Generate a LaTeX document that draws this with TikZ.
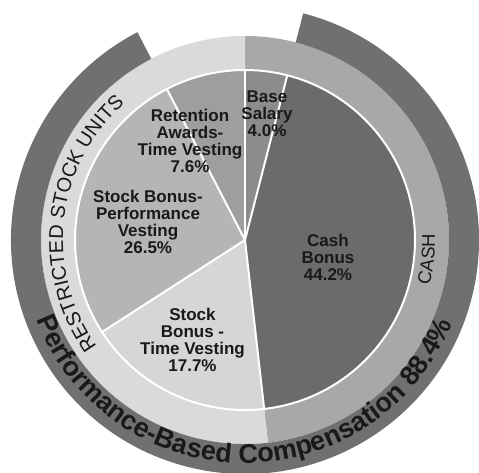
\documentclass[tikz,border=0pt]{standalone}
\usepackage{fontspec}
\setmainfont{Liberation Sans}
\usetikzlibrary{decorations.text}
\definecolor{cashbonus}{gray}{0.42}
\definecolor{outerring}{gray}{0.44}
\definecolor{basesal}{gray}{0.55}
\definecolor{retention}{gray}{0.62}
\definecolor{perfvest}{gray}{0.71}
\definecolor{timevest}{gray}{0.84}
\definecolor{rsuring}{gray}{0.855}
\definecolor{cashring}{gray}{0.66}
\definecolor{txt}{gray}{0.1}
\newcommand\lblfont{\bfseries\fontsize{17pt}{17pt}\selectfont}
\newcommand\rsufont{\fontsize{20pt}{20pt}\selectfont}
\newcommand\cashfont{\fontsize{18.5pt}{18.5pt}\selectfont}
\newcommand\perffont{\bfseries\fontsize{27pt}{27pt}\selectfont}
\tikzset{
  lbl/.style={align=center, font=\lblfont, text=txt, inner sep=0pt},
  sep/.style={white, line width=2pt},
  arctext/.style={decorate, decoration={text along path, text align=center, text color=txt, text={#1}}}
}
\begin{document}
\begin{tikzpicture}
\fill[white] (-245pt,-232pt) rectangle (234pt,240pt);
\useasboundingbox (-245pt,-232pt) rectangle (234pt,240pt);
% pie
\fill[basesal] (0,0) -- (90:170pt) arc (90:75.6:170pt) -- cycle;
\fill[cashbonus] (0,0) -- (75.6:170pt) arc (75.6:-83.52:170pt) -- cycle;
\fill[timevest] (0,0) -- (-83.52:170pt) arc (-83.52:-147.24:170pt) -- cycle;
\fill[perfvest] (0,0) -- (-147.24:170pt) arc (-147.24:-242.64:170pt) -- cycle;
\fill[retention] (0,0) -- (117.36:170pt) arc (117.36:90:170pt) -- cycle;
% middle ring
\fill[cashring] (90:170pt) arc (90:-83.52:170pt) -- (-83.52:204pt) arc (-83.52:90:204pt) -- cycle;
\fill[rsuring] (-83.52:170pt) arc (-83.52:-270:170pt) -- (90:204pt) arc (-270:-83.52:204pt) -- cycle;
% outer ring
\fill[outerring] (117.36:204pt) arc (117.36:435.6:204pt) -- (435.6:234pt) arc (435.6:117.36:234pt) -- cycle;
% separators
\foreach \a in {90,75.6,-83.52,-147.24,117.36} \draw[sep] (0,0) -- (\a:170pt);
\draw[sep] (0,0) circle (170pt);
% labels
\node[lbl] (base) at (22pt,126.5pt) {Base\\Salary\\4.0\%};
\node[lbl] (ret) at (-55pt,99pt) {Retention\\Awards-\\Time Vesting\\7.6\%};
\node[lbl] (perf) at (-97pt,18pt) {Stock Bonus-\\Performance\\Vesting\\26.5\%};
\node[lbl] (time) at (-52.5pt,-100pt) {Stock\\Bonus -\\Time Vesting\\17.7\%};
\node[lbl] (cash) at (83pt,-17pt) {Cash\\Bonus\\44.2\%};
% curved texts
\path[arctext={|\rsufont|RESTRICTED STOCK UNITS}] (263.5:182pt) arc (263.5:83.5:182pt);
\path[arctext={|\cashfont|CASH}] (-96:190pt) arc (-96:84:190pt);
\path[arctext={|\perffont|Performance-Based Compensation 88.4{\%}}] (-181:223pt) arc (-181:0:223pt);
\end{tikzpicture}
\end{document}
